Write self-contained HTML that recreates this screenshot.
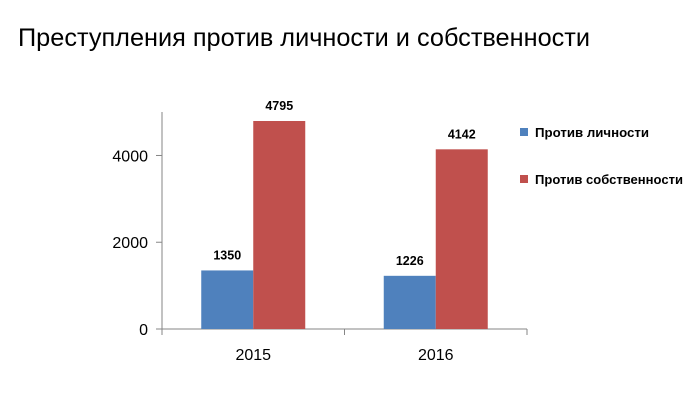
<!DOCTYPE html>
<html><head><meta charset="utf-8"><style>body{margin:0;background:#fff}svg{display:block}</style></head>
<body>
<svg id="chart" width="700" height="409" xmlns="http://www.w3.org/2000/svg" font-family="Liberation Sans, DejaVu Sans, sans-serif">
<text x="18" y="46" font-size="25" textLength="572" lengthAdjust="spacingAndGlyphs">Преступления против личности и собственности</text>
<g id="plot"></g>
<g>
<rect x="520" y="128" width="8" height="8" fill="#4f81bd"/>
<text x="535" y="137" font-size="12.5" font-weight="bold" textLength="114" lengthAdjust="spacingAndGlyphs">Против личности</text>
<rect x="520" y="175" width="8" height="8" fill="#c0504d"/>
<text x="535" y="184" font-size="12.5" font-weight="bold" textLength="148" lengthAdjust="spacingAndGlyphs">Против собственности</text>
</g>
</svg>
<script>
const categories = ["2015", "2016"];
const personValues = [1350, 1226];
const propertyValues = [4795, 4142];
const yTicks = [0, 2000, 4000];

const NS = "http://www.w3.org/2000/svg";
const plot = document.getElementById("plot");
const x0 = 162, x1 = 527, yBase = 329, yMaxVal = 5000, yTopPx = 112;
const y = v => yBase - v * 0.04338;
const catW = (x1 - x0) / categories.length;
const barW = 52;
function mk(tag, attrs, text) {
  const e = document.createElementNS(NS, tag);
  for (const k in attrs) e.setAttribute(k, attrs[k]);
  if (text !== undefined) e.textContent = text;
  plot.appendChild(e);
  return e;
}
// axes
let ax = mk("line", {x1: x0, y1: yTopPx, x2: x0, y2: yBase, stroke: "#868686", "stroke-width": 1});


let xa = mk("line", {x1: x0, y1: yBase, x2: x1, y2: yBase, stroke: "#868686", "stroke-width": 1});


yTicks.forEach(t => {
  const tk = mk("line", {x1: x0 - 6, y1: y(t), x2: x0, y2: y(t), stroke: "#868686"});
  
  
  const lb = mk("text", {x: x0 - 14, y: y(t) + 6, "font-size": 16, "text-anchor": "end", fill: "#000"}, String(t));
  
  
});
for (let i = 0; i <= categories.length; i++) {
  const tk = mk("line", {x1: x0 + i * catW, y1: yBase, x2: x0 + i * catW, y2: yBase + 6, stroke: "#868686"});
  
  
}
categories.forEach((c, i) => {
  const cx = x0 + catW * (i + 0.5);
  const lb = mk("text", {x: cx, y: yBase + 31, "font-size": 16, "text-anchor": "middle"}, c);
  
  
  [[personValues[i], "#4f81bd", "person"], [propertyValues[i], "#c0504d", "property"]].forEach(([v, col, nm], j) => {
    const bx = cx - barW + j * barW;
    const r = mk("rect", {x: bx, y: y(v), width: barW, height: yBase - y(v), fill: col});
    
    
    const t = mk("text", {x: bx + barW / 2, y: y(v) - 11, "font-size": 12.5, "font-weight": "bold", "text-anchor": "middle"}, String(v));
    
    
  });
});
</script>
</body></html>
